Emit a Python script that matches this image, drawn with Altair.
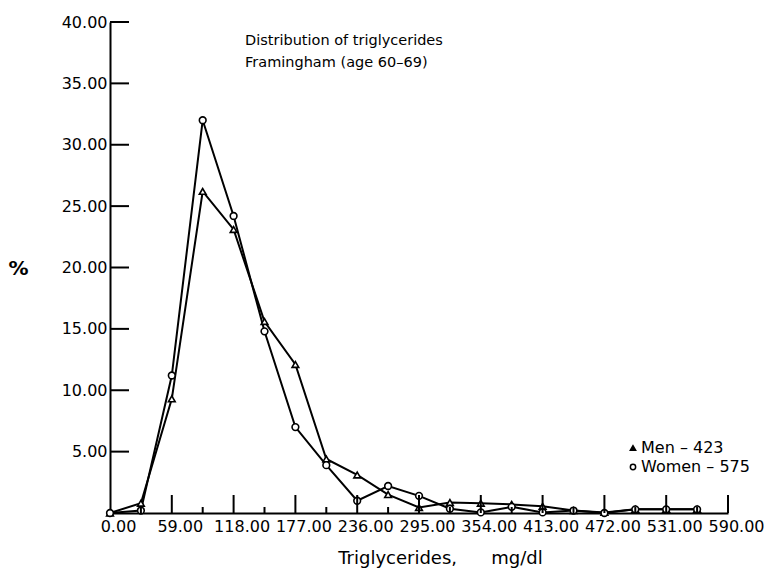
import altair as alt
import pandas as pd

# Data
trig = [0, 29.5, 59, 88.5, 118, 147.5, 177, 206.5, 236, 265.5, 295, 324.5,
        354, 383.5, 413, 442.5, 472, 501.5, 531, 560.5]
men = [0.0, 0.8, 9.3, 26.2, 23.1, 15.6, 12.1, 4.4, 3.1, 1.5, 0.45, 0.85,
       0.8, 0.7, 0.55, 0.2, 0.05, 0.3, 0.3, 0.3]
women = [0.0, 0.2, 11.2, 32.0, 24.2, 14.8, 7.0, 3.9, 1.0, 2.2, 1.4, 0.35,
         0.05, 0.5, 0.05, 0.2, 0.0, 0.3, 0.3, 0.3]
series_names = ["Men \u2013 423", "Women \u2013 575"]
series_shapes = ["triangle-up", "circle"]
x_ticks = [0, 59, 118, 177, 236, 295, 354, 413, 472, 531, 590]
x_major = [59, 118, 177, 236, 295, 354, 413, 472, 531, 590]
x_minor = [29.5, 88.5, 147.5, 206.5, 265.5, 324.5, 383.5, 442.5, 501.5, 560.5]
y_ticks = [5, 10, 15, 20, 25, 30, 35, 40]
title_lines = ["Distribution of triglycerides", "Framingham (age 60\u201369)"]

FONT = "DejaVu Sans"

rows = []
for s, vals in zip(series_names, [men, women]):
    for x, v in zip(trig, vals):
        rows.append({"trig": x, "pct": v, "series": s})
df = pd.DataFrame(rows)

xscale = alt.Scale(domain=[0, 590], nice=False, zero=True)
yscale = alt.Scale(domain=[0, 40], nice=False, zero=True)

x_axis = alt.Axis(values=x_ticks, format=".2f", ticks=False, grid=False,
                  domainColor="black", domainWidth=2,
                  labelFont=FONT, labelFontSize=16, labelColor="black",
                  labelPadding=5, labelOffset=8, labelFlush=False,
                  labelOverlap=False,
                  title="Triglycerides,\u00a0\u00a0\u00a0\u00a0\u00a0\u00a0mg/dl",
                  titleFont=FONT, titleFontSize=18, titleFontWeight="normal",
                  titleColor="black", titleX=330, titleY=45,
                  titleBaseline="middle", titleAlign="center")
y_axis = alt.Axis(values=y_ticks, format=".2f", ticks=False, grid=False,
                  domainColor="black", domainWidth=2,
                  labelFont=FONT, labelFontSize=16, labelColor="black",
                  labelPadding=3,
                  title="%", titleAngle=0, titleFont=FONT, titleFontSize=20,
                  titleFontWeight="bold", titleColor="black",
                  titleX=-92, titleY=246, titleAlign="center",
                  titleBaseline="middle")

X = alt.X("trig:Q", scale=xscale, axis=x_axis)
Y = alt.Y("pct:Q", scale=yscale, axis=y_axis)
shape_scale = alt.Scale(domain=series_names, range=series_shapes)

lines = alt.Chart(df).mark_line(color="black", strokeWidth=2).encode(
    x=X, y=Y, detail="series:N")

points = alt.Chart(df).mark_point(filled=False, fill="white", fillOpacity=1,
                                  stroke="black", strokeWidth=1.6, opacity=1,
                                  size=45).encode(
    x=X, y=Y, shape=alt.Shape("series:N", scale=shape_scale, legend=None))

major = alt.Chart(pd.DataFrame({"trig": x_major})).mark_rule(color="black", strokeWidth=2).encode(
    x=X, y=alt.value(491), y2=alt.value(473))
minor = alt.Chart(pd.DataFrame({"trig": x_minor})).mark_rule(color="black", strokeWidth=2).encode(
    x=X, y=alt.value(491), y2=alt.value(485))
yt = alt.Chart(pd.DataFrame({"pct": y_ticks})).mark_rule(color="black", strokeWidth=2).encode(
    y=Y, x=alt.value(0), x2=alt.value(19))

title = alt.Chart(pd.DataFrame({"t": [title_lines]})).mark_text(
    font=FONT, fontSize=14.5, align="left", baseline="top", lineHeight=22, color="black"
).encode(text="t", x=alt.value(135), y=alt.value(12))

# hand-placed legend (as in the original figure)
legend_layers = []
for i, (name, shp) in enumerate(zip(series_names, series_shapes)):
    ly = 426 + 19 * i
    ldf = pd.DataFrame({"label": [name]})
    legend_layers.append(
        alt.Chart(ldf).mark_point(shape=shp, filled=(i == 0), fill="black" if i == 0 else "white",
                                  stroke="black", strokeWidth=1.5, size=28, opacity=1)
        .encode(x=alt.value(523), y=alt.value(ly)))
    legend_layers.append(
        alt.Chart(ldf).mark_text(font=FONT, fontSize=16, align="left", baseline="middle",
                                 color="black")
        .encode(text="label:N", x=alt.value(531), y=alt.value(ly)))

chart = alt.layer(lines, points, major, minor, yt, title, *legend_layers).properties(
    width=618, height=491,
    autosize=alt.AutoSizeParams(type="none"),
    padding={"left": 110, "top": 22, "right": 45, "bottom": 59},
    background="white",
).configure_view(stroke=None)

chart.save("out.html", embed_options={"renderer": "svg", "actions": False})
